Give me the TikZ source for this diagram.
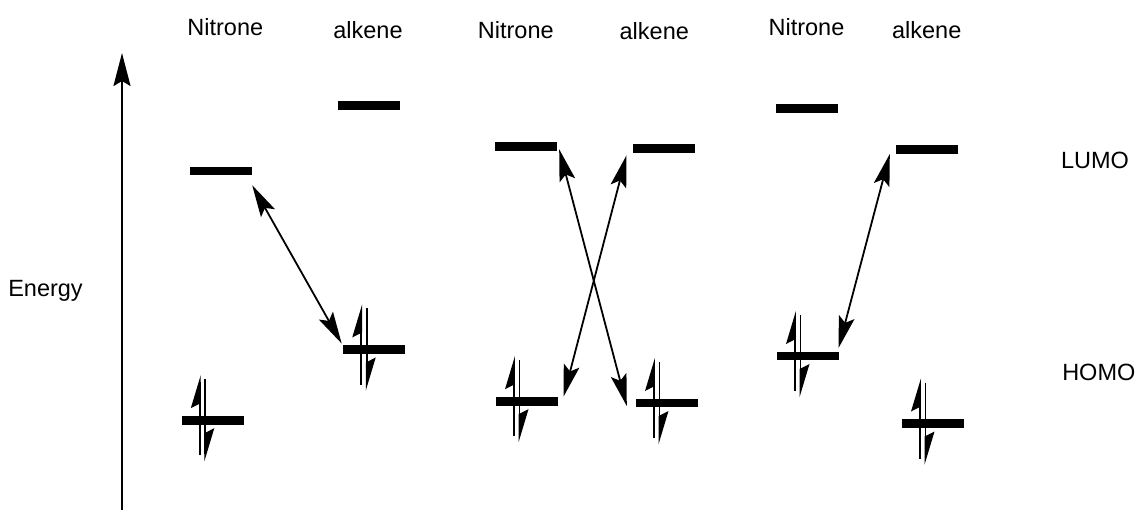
\documentclass[tikz,border=0pt]{standalone}
\usepackage{fontspec}
\setmainfont{Liberation Sans}
\usetikzlibrary{arrows.meta}
\newcommand\epair[1]{%
  \begin{scope}[shift={(#1.center)}]
    \draw[eline] (-13,35) -- (-13,-38);
    \fill (-12.1,-45) -- (-22,-12) -- (-12.1,-17) -- cycle;
    \draw[eline] (-7.5,-41) -- (-7.5,34);
    \fill (-8.4,41) -- (1.5,8) -- (-8.4,13) -- cycle;
  \end{scope}}
\begin{document}
\begin{tikzpicture}[x=1pt,y=-1pt,
  orb/.style={rectangle,fill=black,inner sep=0pt,minimum width=62pt,minimum height=8.7pt},
  lbl/.style={font=\fontsize{23.5}{28}\selectfont,inner sep=0pt,anchor=base},
  eline/.style={line width=1.8pt},
  tip/.style={Stealth[length=32pt,width=16pt,inset=6pt]},
  conn/.style={line width=1.8pt,{Stealth[length=32pt,width=16pt,inset=6pt]}-{Stealth[length=32pt,width=16pt,inset=6pt]}},
  axis/.style={line width=1.9pt,-{Stealth[length=33pt,width=17pt,inset=5pt]}}]
\useasboundingbox (0,0) rectangle (1140,510);
% labels
\node[lbl] (t1) at (225.3,35.7) {Nitrone};
\node[lbl] (t2) at (368,38.3) {alkene};
\node[lbl] (t3) at (515.8,38.3) {Nitrone};
\node[lbl] (t4) at (654.3,40) {alkene};
\node[lbl] (t5) at (806.5,35.7) {Nitrone};
\node[lbl] (t6) at (926.7,38.3) {alkene};
\node[lbl] (en) at (45.5,296.7) {Energy};
\node[lbl] (lu) at (1095,168.3) {LUMO};
\node[lbl] (ho) at (1098.8,380.7) {HOMO};
% energy axis
\coordinate (ab) at (122,510);
\coordinate (at) at (122,53);
\draw[axis] (ab) -- (at);
% orbitals
\node[orb] (n1L) at (221,171) {};
\node[orb] (a1L) at (369,105.5) {};
\node[orb] (a1H) at (374.2,349.5) {};
\node[orb] (n1H) at (212.8,420.2) {};
\node[orb] (n2L) at (526,146.7) {};
\node[orb] (a2L) at (664,148.5) {};
\node[orb] (n2H) at (527,401.2) {};
\node[orb] (a2H) at (667,403) {};
\node[orb] (n3L) at (807,108.3) {};
\node[orb] (a3L) at (927,149.5) {};
\node[orb] (n3H) at (808,356) {};
\node[orb] (a3H) at (933,423.5) {};
% electrons
\epair{a1H}
\epair{n1H}
\epair{n2H}
\epair{a2H}
\epair{n3H}
\epair{a3H}
% interactions
\draw[conn] ([shift={(0,9.7)}]n1L.south east) -- ([shift={(-1.3,-1.4)}]a1H.north west);
\draw[conn] ([shift={(2,2.6)}]n2L.east) -- ([shift={(-9,3)}]a2H.west);
\draw[conn] ([shift={(-6.3,2.3)}]a2L.south west) -- ([shift={(5.3,0)}]n2H.north east);
\draw[conn] ([shift={(-6,0)}]a3L.south west) -- ([shift={(-0.7,-3.4)}]n3H.north east);
\end{tikzpicture}
\end{document}
